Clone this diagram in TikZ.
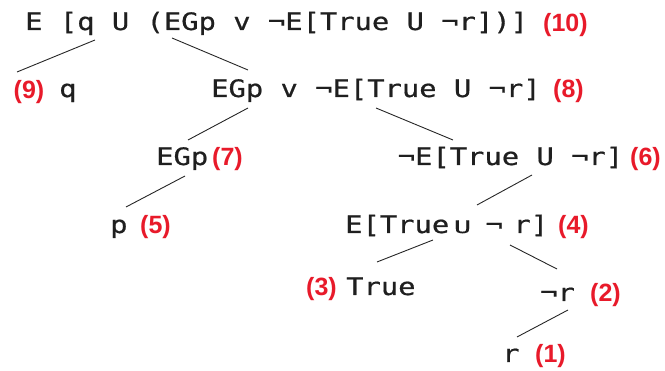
\documentclass[tikz,border=0pt]{standalone}
\usepackage{fontspec}
\usepackage{graphicx}
\usetikzlibrary{calc}
\newfontfamily\monof[FakeStretch=1.2,FakeBold=0.7]{DejaVu Sans Mono}
\newfontfamily\labf{Liberation Sans}
\definecolor{labred}{RGB}{232,26,42}
\newcommand{\smallU}{\scalebox{1}[0.72]{U}}
\tikzset{
  txt/.style={inner sep=0pt, anchor=base west, font=\monof\fontsize{24}{24}\selectfont, text=black!88},
  lab/.style={inner sep=0pt, anchor=base west, font=\labf\bfseries\fontsize{25}{25}\selectfont, text=labred},
  edge/.style={line width=0.9pt, draw=black!85}
}
\begin{document}
\begin{tikzpicture}[x=1pt,y=-1pt]
\useasboundingbox (0,0) rectangle (665,371);
% line 1
\node[txt] (t10) at (25,30) {E [q U (EGp v ¬E[True U ¬r])]};
\node[lab] (r10) at (543,32) {(10)};
% line 2
\node[lab] (r9) at (13.5,99) {(9)};
\node[txt] (t9) at (59,97) {q};
\node[txt] (t8) at (211,97) {EGp v ¬E[True U ¬r]};
\node[lab] (r8) at (553,98) {(8)};
% line 3
\node[txt] (t7) at (156,165) {EGp};
\node[lab] (r7) at (212,166) {(7)};
\node[txt] (t6) at (397.6,165) {¬E[True U ¬r]};
\node[lab] (r6) at (630,166) {(6)};
% line 4
\node[txt] (t5) at (110,233) {p};
\node[lab] (r5) at (140,234) {(5)};
\node[txt] (t4) at (345,233) {E[True\hspace{4.6pt}\smallU\hspace{14.4pt}¬\hspace{10.6pt}r]};
\node[lab] (r4) at (558,234) {(4)};
% line 5
\node[lab] (r3) at (306,296) {(3)};
\node[txt] (t3) at (346,295) {True};
\node[txt] (t2) at (540,301) {¬r};
\node[lab] (r2) at (590,302) {(2)};
% line 6
\node[txt] (t1) at (502,362) {r};
\node[lab] (r1) at (535,363) {(1)};
% connectors
\draw[edge] ($(t10.base west)+(70,10)$) -- ($(r9.base west)+(3.5,-27)$);
\draw[edge] ($(t10.base west)+(147,8)$) -- ($(t8.base west)+(37,-27)$);
\draw[edge] ($(t8.base west)+(37,11)$) -- ($(t7.base west)+(32,-25)$);
\draw[edge] ($(t8.base west)+(165,11)$) -- ($(t6.base west)+(55.4,-25)$);
\draw[edge] ($(t7.base west)+(29,11)$) -- ($(t5.base west)+(16,-26)$);
\draw[edge] ($(t6.base west)+(134.4,10)$) -- ($(t4.base west)+(132,-28)$);
\draw[edge] ($(t4.base west)+(88,7)$) -- ($(t3.base west)+(31,-33)$);
\draw[edge] ($(t4.base west)+(165,12)$) -- ($(t2.base west)+(17,-32)$);
\draw[edge] ($(t2.base west)+(28,9)$) -- ($(t1.base west)+(15,-25)$);
\end{tikzpicture}
\end{document}
